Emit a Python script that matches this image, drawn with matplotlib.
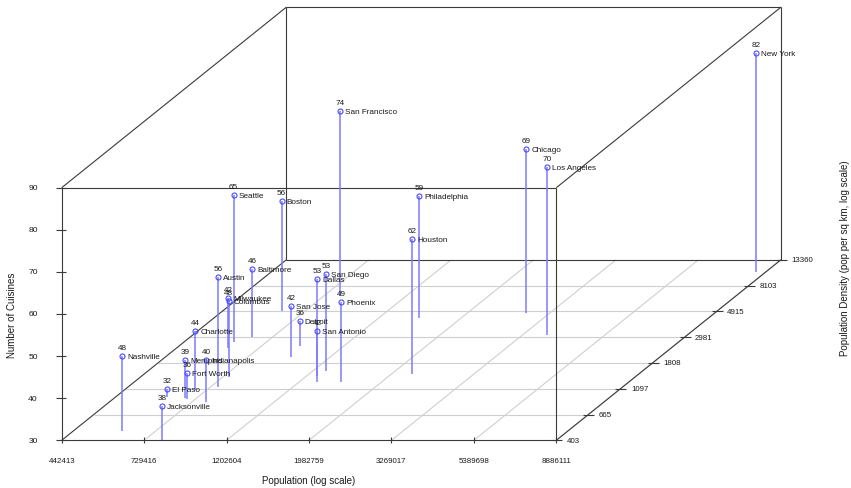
import numpy as np
import matplotlib
matplotlib.use("Agg")
import matplotlib.pyplot as plt
from matplotlib import font_manager

# ---- data ----
cities = ["New York", "Los Angeles", "Chicago", "Houston", "Phoenix",
          "Philadelphia", "San Antonio", "San Diego", "Dallas", "San Jose",
          "Austin", "Jacksonville", "Fort Worth", "Columbus", "Charlotte",
          "San Francisco", "Indianapolis", "Seattle", "El Paso", "Boston",
          "Detroit", "Nashville", "Memphis", "Baltimore", "Milwaukee"]
population = [8370000, 3800000, 2830000, 2240000, 1550000,
              1540000, 1340000, 1300000, 1280000, 946000,
              760000, 811000, 692000, 757000, 680000,
              807000, 798000, 598000, 606000, 632000,
              920000, 597000, 679000, 641000, 606000]
density = [10570, 3102, 4770, 1467, 1257,
           4316, 1254, 1553, 1409, 2037,
           1145, 406, 906, 1373, 1072,
           6560, 846, 2712, 926, 4970,
           2511, 479, 923, 3014, 2408]
cuisines = [82, 70, 69, 62, 49,
            59, 42, 53, 53, 42,
            56, 38, 36, 48, 44,
            74, 40, 65, 32, 56,
            36, 48, 39, 46, 42]

x_ticks = [13.0, 13.5, 14.0, 14.5, 15.0, 15.5, 16.0]          # log(population)
y_ticks = [6.0, 6.5, 7.0, 7.5, 8.0, 8.5, 9.0, 9.5]            # log(density)
z_ticks = [30, 40, 50, 60, 70, 80, 90]

# ---- figure in pixel units ----
fig = plt.figure(figsize=(8.51, 4.89), dpi=100)
ax = fig.add_axes([0, 0, 1, 1])
ax.set_xlim(0, 851)
ax.set_ylim(489, 0)
ax.axis("off")

names = {f.name for f in font_manager.fontManager.ttflist}
if "Liberation Sans Narrow" in names:
    FAM, K = "Liberation Sans Narrow", 1.05
else:
    FAM, K = "Liberation Sans", 0.95
TXT = "#1a1a1a"

# oblique box geometry (front face origin, size, depth offset)
X0, Y0 = 61.7, 441.3
W, H = 494.6, 252.6
DX, DY = 224.6, 180.5
xr = (x_ticks[0], x_ticks[-1])
yr = (y_ticks[0], y_ticks[-1])
zr = (z_ticks[0], z_ticks[-1])


def proj(lx, ly, z):
    xf = (np.asarray(lx, float) - xr[0]) / (xr[1] - xr[0])
    yf = (np.asarray(ly, float) - yr[0]) / (yr[1] - yr[0])
    zf = (np.asarray(z, float) - zr[0]) / (zr[1] - zr[0])
    return X0 + xf * W + yf * DX, Y0 - zf * H - yf * DY


def seg(p, q, **kw):
    ax.plot([p[0], q[0]], [p[1], q[1]], **kw)


grid_kw = dict(color="#cfcfcf", lw=0.8, solid_capstyle="butt", zorder=1)
box_kw = dict(color="#3a3a3a", lw=0.8, solid_capstyle="butt", zorder=2)

# grid on the floor
for yt in y_ticks[1:-1]:
    seg(proj(xr[0], yt, zr[0]), proj(xr[1], yt, zr[0]), **grid_kw)
for xt in x_ticks[1:]:
    seg(proj(xt, yr[0], zr[0]), proj(xt, yr[1], zr[0]), **grid_kw)

# box edges
corners = {}
for i, xv in enumerate(xr):
    for j, yv in enumerate(yr):
        for k, zv in enumerate(zr):
            corners[(i, j, k)] = proj(xv, yv, zv)
for a in corners:
    for b in corners:
        if a < b and sum(u != v for u, v in zip(a, b)) == 1:
            seg(corners[a], corners[b], **box_kw)

# z axis ticks and labels
for zt in z_ticks:
    px, py = proj(xr[0], yr[0], zt)
    seg((px - 5.5, py), (px + 4.5, py), **box_kw)
    ax.text(px - 24, py, str(zt), ha="right", va="center",
            fontsize=6.4 * K, family=FAM, color=TXT)

# x axis ticks and labels
for xt in x_ticks:
    px, py = proj(xt, yr[0], zr[0])
    seg((px, py - 3), (px, py + 3), **box_kw)
    ax.text(px, py + 20, f"{np.exp(xt):.0f}", ha="center", va="center",
            fontsize=6.0 * K, family=FAM, color=TXT)

# y axis (depth) ticks and labels
for yt in y_ticks:
    px, py = proj(xr[1], yt, zr[0])
    seg((px - 5, py), (px + 6, py), **box_kw)
    ax.text(px + 10.5, py, f"{np.exp(yt):.0f}", ha="left", va="center",
            fontsize=6.0 * K, family=FAM, color=TXT)

# axis titles
ax.text((X0 + X0 + W) / 2, 481.5, "Population (log scale)", ha="center",
        va="center", fontsize=7.4 * K, family=FAM, color=TXT)
ax.text(12, Y0 - H / 2, "Number of Cuisines", ha="center", va="center",
        rotation=90, fontsize=7.4 * K, family=FAM, color=TXT)
ax.text(845, 258, "Population Density (pop per sq km, log scale)",
        ha="center", va="center", rotation=90, fontsize=7.4 * K,
        family=FAM, color=TXT)

# stems, points and labels
lx = np.log(population)
ly = np.log(density)
z = np.array(cuisines, float)
order = np.argsort(-ly)  # draw from back to front
for i in order:
    top = proj(lx[i], ly[i], z[i])
    base = proj(lx[i], ly[i], zr[0])
    seg(top, base, color="#7b7bff", lw=1.1, solid_capstyle="butt", zorder=3)
    ax.plot(top[0], top[1], "o", ms=3.6, mfc="none", mec="#4a4aff",
            mew=0.8, zorder=4)
    ax.text(top[0], top[1] - 8.5, str(cuisines[i]), ha="center",
            va="center", fontsize=6.2 * K, family=FAM, color=TXT, zorder=5)
    ax.text(top[0] + 5, top[1] + 0.5, cities[i], ha="left", va="center",
            fontsize=6.2 * K, family=FAM, color=TXT, zorder=5)

fig.savefig("out.png", dpi=100)
